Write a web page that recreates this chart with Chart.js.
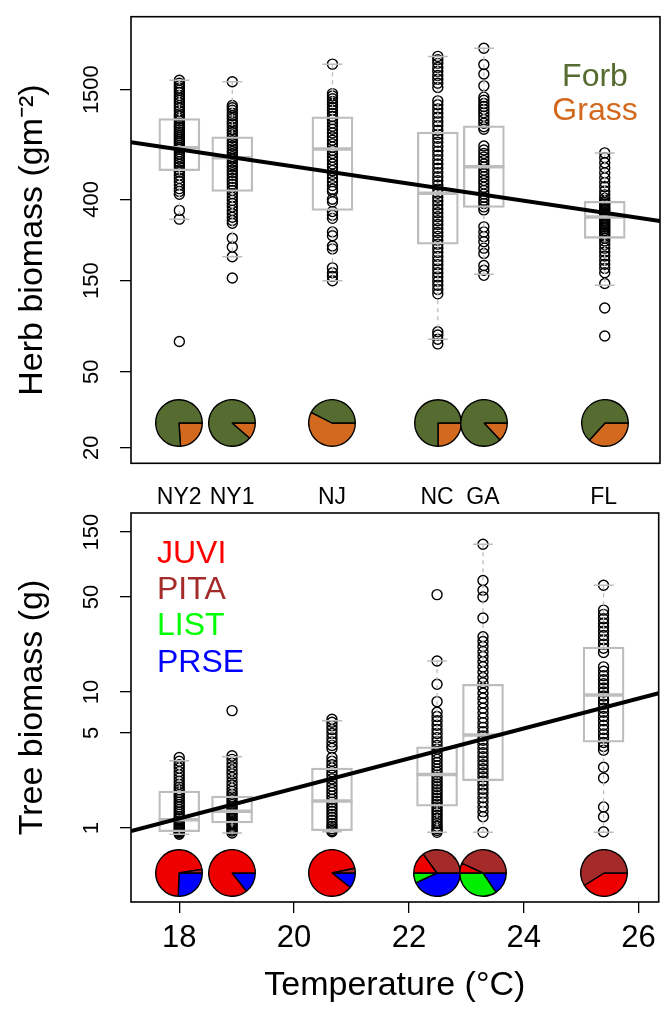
<!DOCTYPE html>
<html>
<head>
<meta charset="utf-8">
<script src="https://cdn.jsdelivr.net/npm/chart.js@4.4.1/dist/chart.umd.min.js"></script>
<style>
body { margin: 0; background: #fff; }
#wrap { position: relative; width: 663px; height: 1009px; }
#herb { position: absolute; left: 0; top: 0; }
#tree { position: absolute; left: 0; top: 480px; }
.pie { position: absolute; width: 48px; height: 48px; }
</style>
</head>
<body>
<div id="wrap">
<canvas id="herb" width="663" height="480"></canvas>
<canvas id="tree" width="663" height="529"></canvas>
</div>
<script>
// sites and temperature
const sites = ['NY2', 'NY1', 'NJ', 'NC', 'GA', 'FL']
const temps = [18.0, 18.92, 20.66, 22.49, 23.29, 25.39]
const tempTicks = [18, 20, 22, 24, 26]
const fitX = [17.16, 26.35]

// herb panel
const herbTicks = [20, 50, 150, 400, 1500]
const herbQ1 = [565, 440, 350, 233, 363, 250]
const herbMed = [745, 660, 733, 430, 592, 323]
const herbQ3 = [1060, 850, 1080, 900, 970, 390]
const herbLo = [315, 200, 150, 74, 162, 142]
const herbHi = [1680, 1650, 2040, 2240, 2470, 700]
const herbFitY = [796, 308]
const herbNY2 = [1680, 1620, 1570, 1530, 1490, 1450, 1400, 1360, 1320, 1280, 1240, 1200, 1160, 1120, 1090, 1060, 1030, 1000, 975, 950, 925, 900, 880, 860, 840, 820, 800, 785, 765, 745, 730, 710, 690, 670, 650, 630, 610, 590, 570, 555, 535, 515, 495, 475, 455, 440, 425, 350, 315, 72]
const herbNY1 = [1650, 1240, 1205, 1170, 1130, 1095, 1060, 1020, 990, 955, 925, 895, 865, 840, 810, 785, 760, 735, 712, 690, 668, 650, 628, 608, 590, 570, 552, 535, 515, 498, 480, 462, 445, 428, 410, 395, 380, 366, 350, 336, 322, 310, 300, 250, 225, 200, 155]
const herbNJ = [2040, 1430, 1390, 1345, 1300, 1255, 1210, 1170, 1125, 1085, 1045, 1005, 965, 930, 890, 850, 815, 780, 750, 720, 695, 665, 640, 612, 588, 565, 540, 515, 495, 472, 452, 440, 400, 388, 345, 330, 318, 270, 258, 228, 220, 175, 165, 158, 150]
const herbNC = [2240, 2150, 2060, 1960, 1870, 1780, 1700, 1620, 1540, 1310, 1250, 1190, 1130, 1075, 1020, 970, 920, 875, 835, 795, 755, 715, 680, 645, 612, 582, 552, 525, 500, 475, 452, 430, 410, 392, 374, 356, 340, 324, 309, 295, 281, 268, 256, 244, 233, 222, 211, 201, 191, 182, 173, 165, 157, 149, 142, 135, 128, 81, 78, 74, 70]
const herbGA = [2470, 2030, 1810, 1570, 1370, 1320, 1270, 1225, 1180, 1135, 1090, 1045, 1000, 960, 930, 760, 725, 695, 665, 638, 612, 590, 568, 546, 524, 502, 482, 462, 444, 426, 410, 395, 380, 365, 352, 287, 270, 255, 240, 222, 208, 180, 170, 160]
const herbFL = [700, 660, 622, 585, 550, 518, 490, 465, 442, 422, 405, 392, 385, 378, 370, 362, 355, 348, 340, 334, 328, 322, 316, 310, 304, 298, 292, 286, 280, 274, 268, 262, 256, 250, 242, 232, 222, 212, 202, 192, 183, 174, 165, 145, 108, 77]
const forbPct = [76, 88.6, 42.5, 75, 87, 63.3]
const grassPct = [24, 11.4, 57.5, 25, 13, 36.7]
const herbPieLevel = 27

// tree panel
const treeTicks = [1, 5, 10, 50, 150]
const treeQ1 = [0.94, 1.09, 0.955, 1.45, 2.23, 4.28]
const treeMed = [1.15, 1.33, 1.58, 2.48, 4.83, 9.5]
const treeQ3 = [1.87, 1.72, 2.76, 3.96, 11.4, 21.4]
const treeLo = [0.9, 0.92, 0.94, 0.93, 0.93, 0.93]
const treeHi = [3.13, 3.34, 6.14, 16.9, 122, 61]
const treeFitY = [0.95, 9.8]
const treeNY2 = [3.3, 3.1, 2.92, 2.76, 2.6, 2.46, 2.33, 2.21, 2.1, 2.0, 1.91, 1.83, 1.76, 1.69, 1.62, 1.55, 1.49, 1.43, 1.37, 1.31, 1.26, 1.21, 1.17, 1.13, 1.09, 1.06, 1.03, 1.0, 0.98, 0.96, 0.94, 0.92, 0.9]
const treeNY1 = [7.3, 3.4, 3.2, 3.0, 2.82, 2.65, 2.5, 2.35, 2.2, 2.07, 1.96, 1.86, 1.77, 1.69, 1.62, 1.55, 1.49, 1.43, 1.38, 1.33, 1.29, 1.25, 1.21, 1.17, 1.13, 1.09, 1.06, 1.03, 1.0, 0.97, 0.95, 0.92]
const treeNJ = [6.3, 6.0, 5.65, 5.3, 4.95, 4.6, 4.3, 4.05, 3.85, 3.3, 3.1, 2.92, 2.76, 2.6, 2.45, 2.3, 2.16, 2.03, 1.92, 1.82, 1.72, 1.63, 1.55, 1.47, 1.4, 1.33, 1.26, 1.2, 1.14, 1.08, 1.03, 0.99, 0.96, 0.94]
const treeNC = [52, 16.9, 11.4, 8.5, 7.1, 6.6, 6.15, 5.7, 5.3, 4.95, 4.62, 4.32, 4.05, 3.8, 3.58, 3.38, 3.2, 3.03, 2.87, 2.72, 2.58, 2.46, 2.34, 2.22, 2.11, 2.01, 1.91, 1.82, 1.73, 1.65, 1.57, 1.5, 1.43, 1.36, 1.3, 1.24, 1.18, 1.13, 1.08, 1.03, 0.99, 0.96, 0.93]
const treeGA = [122, 66, 56, 50, 35, 25.5, 23.5, 21.6, 19.8, 18.2, 16.7, 15.3, 14.0, 12.8, 11.7, 10.7, 9.8, 9.0, 8.3, 7.6, 7.0, 6.45, 5.95, 5.5, 5.1, 4.75, 4.42, 4.12, 3.84, 3.58, 3.34, 3.12, 2.92, 2.73, 2.55, 2.38, 2.22, 2.07, 1.93, 1.8, 1.67, 1.55, 1.43, 1.32, 1.21, 0.93]
const treeFL = [61, 40, 37.2, 34.6, 32.2, 30, 28, 26, 24.2, 22.5, 21, 19.5, 15.3, 14.2, 13.2, 12.3, 11.5, 10.7, 10.0, 9.35, 8.75, 8.15, 7.6, 7.1, 6.6, 6.15, 5.7, 5.3, 4.92, 4.58, 4.26, 3.98, 3.74, 2.8, 2.33, 1.43, 1.21, 0.94]
// pie shares, in the order R draws them (counter-clockwise from 3 o'clock)
const pitaPct = [2.5, 0, 3.3, 35, 43, 59]
const juviPct = [72, 85.6, 86, 15, 7, 41]
const listPct = [0, 0, 0, 7, 34.4, 0]
const prsePct = [25.5, 14.4, 10.7, 43, 15.6, 0]
const treePieLevel = 0.47

const grey = '#bdbdbd'
const font = "'Liberation Sans', Arial, Helvetica, sans-serif"
Chart.defaults.font.family = font
Chart.defaults.color = '#000'

const frame = {
    id: 'frame',
    afterDraw(chart) {
        const {ctx, chartArea: a} = chart
        ctx.save()
        ctx.strokeStyle = '#000'
        ctx.lineWidth = 1.6
        ctx.strokeRect(a.left, a.top, a.width, a.height)
        ctx.restore()
    }
}

function legendText(items) {
    return {
        id: 'legendText',
        afterDraw(chart) {
            const ctx = chart.ctx
            ctx.save()
            ctx.font = '32px ' + font
            items.forEach(it => {
                ctx.fillStyle = it.color
                ctx.textAlign = it.align
                ctx.fillText(it.text, it.x, it.y)
            })
            ctx.restore()
        }
    }
}

function panelDatasets(groups, q1, med, q3, lo, hi, fitY) {
    let pts = []
    groups.forEach((vals, i) => vals.forEach(v => pts.push({x: temps[i], y: v})))
    let boxes = temps.map((t, i) => ({x: t, y: [q1[i], q3[i]]}))
    let meds = temps.map((t, i) => ({x: t, y: med[i]}))
    let caps = []
    let whisk = []
    temps.forEach((t, i) => {
        caps.push({x: t, y: lo[i]}, {x: t, y: hi[i]})
        whisk.push({x: t, y: hi[i]}, {x: t, y: q3[i]}, {x: t, y: null},
                   {x: t, y: q1[i]}, {x: t, y: lo[i]}, {x: t, y: null})
    })
    return [
        {type: 'line', data: fitX.map((x, i) => ({x: x, y: fitY[i]})), borderColor: '#000', borderWidth: 4, pointRadius: 0, order: 0},
        {type: 'scatter', data: meds, pointStyle: 'line', pointRadius: 20.5, borderColor: grey, borderWidth: 3.5, order: 1},
        {type: 'bar', data: boxes, barThickness: 41, borderColor: grey, borderWidth: 1.6, borderSkipped: false, backgroundColor: 'rgba(0,0,0,0)', order: 2},
        {type: 'line', data: whisk, borderColor: grey, borderDash: [4, 4], borderWidth: 1.3, pointRadius: 0, order: 3},
        {type: 'scatter', data: caps, pointStyle: 'line', pointRadius: 10, borderColor: grey, borderWidth: 1.5, order: 4},
        {type: 'scatter', data: pts, pointRadius: 5, borderColor: '#000', borderWidth: 1.4, backgroundColor: 'rgba(0,0,0,0)', order: 5}
    ]
}

function yAxis(ticks, min, max, title, pad) {
    return {
        type: 'logarithmic', min: min, max: max,
        afterBuildTicks: s => { s.ticks = ticks.map(v => ({value: v})) },
        afterFit: s => { s.width = 131 },
        ticks: {callback: v => String(v), minRotation: 90, maxRotation: 90, crossAlign: 'center', padding: pad, autoSkip: false, font: {size: 22}},
        grid: {drawOnChartArea: false, tickLength: 11, color: '#000', lineWidth: 1.3},
        border: {display: false},
        title: {display: true, text: title, font: {size: 34}, padding: {top: 12, bottom: 0}}
    }
}

const herbChart = new Chart(document.getElementById('herb'), {
    type: 'scatter',
    data: {datasets: panelDatasets([herbNY2, herbNY1, herbNJ, herbNC, herbGA, herbFL], herbQ1, herbMed, herbQ3, herbLo, herbHi, herbFitY)},
    options: {
        responsive: false, animation: false, events: [],
        layout: {autoPadding: false, padding: {left: 0, top: 14, right: 3, bottom: 7}},
        plugins: {legend: {display: false}, tooltip: {enabled: false}},
        scales: {
            x: {type: 'linear', min: fitX[0], max: fitX[1], offset: false, display: false},
            y: yAxis(herbTicks, 16.6, 3614, 'Herb biomass (gm\u207B\u00B2)', 3.5)
        }
    },
    plugins: [frame, legendText([
        {text: 'Forb', color: '#556b2f', x: 595, y: 86, align: 'center'},
        {text: 'Grass', color: '#d2691e', x: 595, y: 120, align: 'center'}
    ])]
})

const treeChart = new Chart(document.getElementById('tree'), {
    type: 'scatter',
    data: {datasets: panelDatasets([treeNY2, treeNY1, treeNJ, treeNC, treeGA, treeFL], treeQ1, treeMed, treeQ3, treeLo, treeHi, treeFitY)},
    options: {
        responsive: false, animation: false, events: [],
        layout: {autoPadding: false, padding: {left: 0, top: 0, right: 3, bottom: 0}},
        plugins: {legend: {display: false}, tooltip: {enabled: false}},
        scales: {
            x: {
                type: 'linear', min: fitX[0], max: fitX[1], offset: false,
                afterBuildTicks: s => { s.ticks = tempTicks.map(v => ({value: v})) },
                afterFit: s => { s.height = 107 },
                ticks: {font: {size: 31}, padding: 7, maxRotation: 0, autoSkip: false},
                grid: {drawOnChartArea: false, offset: false, tickLength: 11, color: '#000', lineWidth: 1.3},
                border: {display: false},
                title: {display: true, text: 'Temperature (\u00B0C)', font: {size: 34}, padding: {top: 0, bottom: 3}}
            },
            x2: {
                type: 'linear', position: 'top', min: fitX[0], max: fitX[1], offset: false,
                afterBuildTicks: s => { s.ticks = temps.map(v => ({value: v})) },
                afterFit: s => { s.height = 33 },
                ticks: {callback: (v, i) => sites[i], font: {size: 23}, padding: 2, maxRotation: 0, autoSkip: false},
                grid: {display: false, drawTicks: false, offset: false},
                border: {display: false}
            },
            y: yAxis(treeTicks, 0.286, 207, 'Tree biomass (g)', 9.7)
        }
    },
    plugins: [frame, legendText([
        {text: 'JUVI', color: '#ff0000', x: 157, y: 83, align: 'left'},
        {text: 'PITA', color: '#a52a2a', x: 157, y: 119, align: 'left'},
        {text: 'LIST', color: '#00ff00', x: 157, y: 155, align: 'left'},
        {text: 'PRSE', color: '#0000ff', x: 157, y: 192, align: 'left'}
    ])]
})

// pies sit on the panels at each site's temperature
const wrap = document.getElementById('wrap')
function addPies(chart, offsetTop, level, labels, shares, colors) {
    const xs = chart.scales.x
    const ys = chart.scales.y
    temps.forEach((t, i) => {
        const c = document.createElement('canvas')
        c.width = 48
        c.height = 48
        c.className = 'pie'
        c.style.left = (xs.getPixelForValue(t) - 24) + 'px'
        c.style.top = (offsetTop + ys.getPixelForValue(level) - 24) + 'px'
        wrap.appendChild(c)
        new Chart(c, {
            type: 'pie',
            data: {
                labels: labels.slice().reverse(),
                datasets: [{
                    data: shares.map(s => s[i]).reverse(),
                    backgroundColor: colors.slice().reverse(),
                    borderColor: '#000',
                    borderWidth: 1.4
                }]
            },
            options: {
                responsive: false, animation: false, events: [], rotation: 90,
                plugins: {legend: {display: false}, tooltip: {enabled: false}}
            }
        })
    })
}

addPies(herbChart, 0, herbPieLevel, ['Forb', 'Grass'], [forbPct, grassPct], ['#556b2f', '#d2691e'])
addPies(treeChart, 480, treePieLevel, ['PITA', 'JUVI', 'LIST', 'PRSE'], [pitaPct, juviPct, listPct, prsePct], ['#a52a2a', '#ee0000', '#00ee00', '#0000ff'])
</script>
</body>
</html>
